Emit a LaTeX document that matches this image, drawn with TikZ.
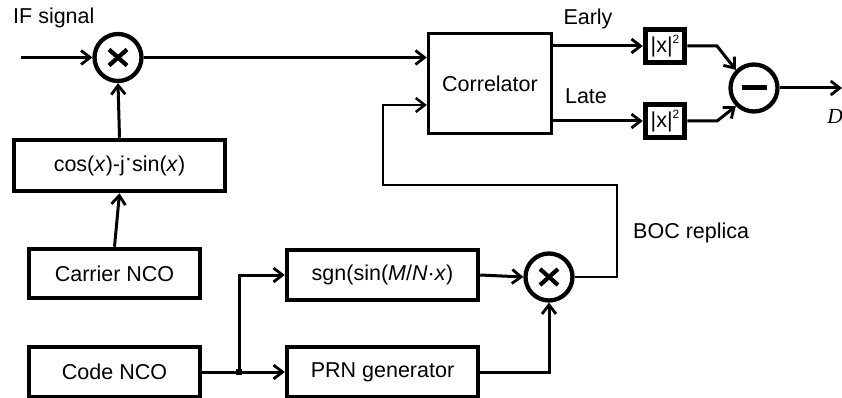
\documentclass[tikz,border=0pt]{standalone}
\usepackage{fontspec}
\setmainfont{Liberation Sans}
\newfontfamily\dserif{Liberation Serif}
\usetikzlibrary{arrows.meta}
\begin{document}
\begin{tikzpicture}[x=1pt,y=-1pt,
  every node/.style={font=\fontsize{21.5}{26}\selectfont, inner sep=0pt},
  blk/.style={draw, line width=4.5pt, minimum width=#1},
  conn/.style={line width=3pt, -{Straight Barb[length=9pt,width=14pt,line width=2.8pt]}},
  opc/.style={draw, circle, line width=4.3pt, minimum size=47pt},
  sq/.style={draw, line width=5.5pt, minimum width=39pt, minimum height=33pt}
]
\useasboundingbox (0,0) rectangle (842,398);

% blocks
\node[blk=211pt, minimum height=51pt] (cosb) at (119.5,165.5) {cos(\textit{x})-j\raisebox{0.25em}{·}sin(\textit{x})};
\node[blk=171pt, minimum height=49pt] (carr) at (114.5,273.5) {Carrier NCO};
\node[blk=171pt, minimum height=50pt] (code) at (114.5,372) {Code NCO};
\node[blk=191pt, minimum height=50pt] (sgn) at (382.5,275) {sgn(sin(\textit{M}/\textit{N}·\textit{x})};
\node[blk=191pt, minimum height=50pt] (prn) at (382.5,372) {PRN generator};
\node[draw, line width=3.5pt, minimum width=123pt, minimum height=100pt] (corr) at (490,83.5) {Correlator};
\node[sq] (sq1) at (665,46) {|x|\raisebox{0.45em}{\fontsize{12}{12}\selectfont 2}};
\node[sq] (sq2) at (665,121) {|x|\raisebox{0.45em}{\fontsize{12}{12}\selectfont 2}};

% operator circles
\node[opc] (mul1) at (118,57.5) {};
\node[opc] (mul2) at (549,277) {};
\node[opc] (sub) at (754,88) {};
\foreach \c in {mul1,mul2}{
  \draw[line width=4.2pt] ([shift={(-9,-8)}]\c.center) -- ([shift={(9,8)}]\c.center);
  \draw[line width=4.2pt] ([shift={(-9,8)}]\c.center) -- ([shift={(9,-8)}]\c.center);
}
\draw[line width=5pt] ([xshift=-12.5pt]sub.center) -- ([xshift=12.5pt]sub.center);

% labels
\node[anchor=west] (iflbl) at (13,18) {IF signal};
\node (early) at (588,19) {Early};
\node (late) at (586,96) {Late};
\node[anchor=west] (boc) at (633,233) {BOC replica};
\node (dlbl) at (835,116) {\dserif\itshape D};

% coordinates
\coordinate (ifin) at (21,57.5);
\coordinate (jn) at (239,372);
\coordinate (fb1) at (617,277);
\coordinate (fb2) at (617,185);
\coordinate (fb3) at (383,185);
\coordinate (fb4) at (383,105);
\coordinate (e1) at (717,46);
\coordinate (l1) at (717,121);
\coordinate (out) at (842,88);

% connectors
\draw[conn] (ifin) -- (mul1.west);
\draw[conn] (mul1.east) -- (mul1.east -| corr.west);
\draw[conn] (cosb.north) -- (mul1.south);
\draw[conn] (carr.north) -- (cosb.south);
\draw[conn] (code.east) -- (prn.west);
\draw[conn] (jn) |- (sgn.west);
\fill ([shift={(-3,-3)}]jn) rectangle ([shift={(3,3)}]jn);
\draw[conn] (sgn.east) -- (mul2.west);
\draw[conn] (prn.east) -| (mul2.south);
\draw[line width=2.5pt, -{Straight Barb[length=9pt,width=14pt,line width=2.5pt]}] (mul2.east) -- (fb1) -- (fb2) -- (fb3) -- (fb4) -- (fb4 -| corr.west);
\draw[conn] (corr.east |- sq1.west) -- (sq1.west);
\draw[conn] (corr.east |- sq2.west) -- (sq2.west);
\draw[conn] (sq1.east) -- (e1) -- (sub.135);
\draw[conn] (sq2.east) -- (l1) -- (sub.225);
\draw[conn] (sub.east) -- (out);
\end{tikzpicture}
\end{document}
